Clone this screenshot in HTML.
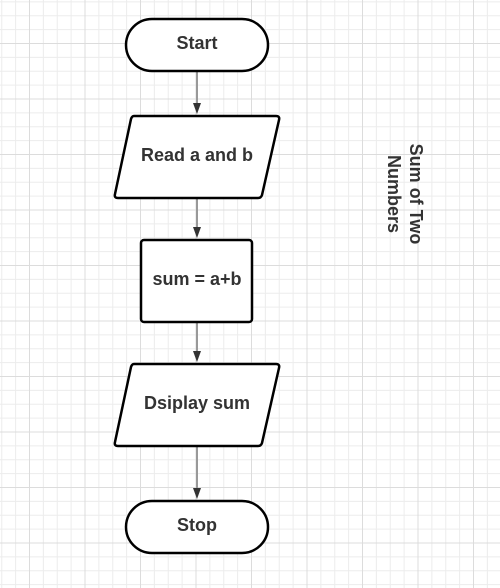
<!DOCTYPE html>
<html><head><style>
html,body{margin:0;padding:0}
body{width:500px;height:588px;overflow:hidden;background-color:#fff;
background-image:
linear-gradient(to right,#dcdcdc 1px,transparent 1px),
linear-gradient(to bottom,#dcdcdc 1px,transparent 1px),
linear-gradient(to right,#ececec 1px,transparent 1px),
linear-gradient(to bottom,#ececec 1px,transparent 1px);
background-size:55.5px 55.5px,55.5px 55.5px,13.875px 13.875px,13.875px 13.875px;
background-position:29px 43px,29px 43px,29px 43px,29px 43px;}
svg{position:absolute;left:0;top:0}
text{font-family:"Liberation Sans",sans-serif;font-weight:bold;font-size:18px;fill:#333}
</style></head><body>
<svg width="500" height="588" viewBox="0 0 500 588">
<g stroke="#999" stroke-width="2">
<line x1="197" y1="72" x2="197" y2="105"/>
<line x1="197" y1="199" x2="197" y2="229"/>
<line x1="197" y1="323" x2="197" y2="353"/>
<line x1="197" y1="447" x2="197" y2="490"/>
</g>
<g fill="#333">
<path d="M193,103 L201,103 L197,114 Z"/>
<path d="M193,227 L201,227 L197,238 Z"/>
<path d="M193,351 L201,351 L197,362 Z"/>
<path d="M193,488 L201,488 L197,499 Z"/>
</g>
<g fill="#fff" stroke="#000" stroke-width="2.5" stroke-linejoin="round">
<rect x="126" y="19" width="142" height="52" rx="26"/>
<path d="M134,116 L276,116 Q280,116 279,120 L262,195 Q261,198 258,198 L118,198 Q114,198 115,194 L131,119 Q132,116 134,116 Z"/>
<rect x="141" y="240" width="111" height="82" rx="3"/>
<path d="M134,364 L276,364 Q280,364 279,368 L262,443 Q261,446 258,446 L118,446 Q114,446 115,442 L131,367 Q132,364 134,364 Z"/>
<rect x="126" y="501" width="142" height="52" rx="26"/>
</g>
<g text-anchor="middle">
<text x="197" y="49">Start</text>
<text x="197" y="161">Read a and b</text>
<text x="197" y="285">sum = a+b</text>
<text x="197" y="409">Dsiplay sum</text>
<text x="197" y="531">Stop</text>
<g transform="translate(397,194) rotate(90)" style="font-size:18.5px">
<text x="0" y="-13">Sum of Two</text>
<text x="0" y="9">Numbers</text>
</g>
</g>
</svg>
</body></html>
